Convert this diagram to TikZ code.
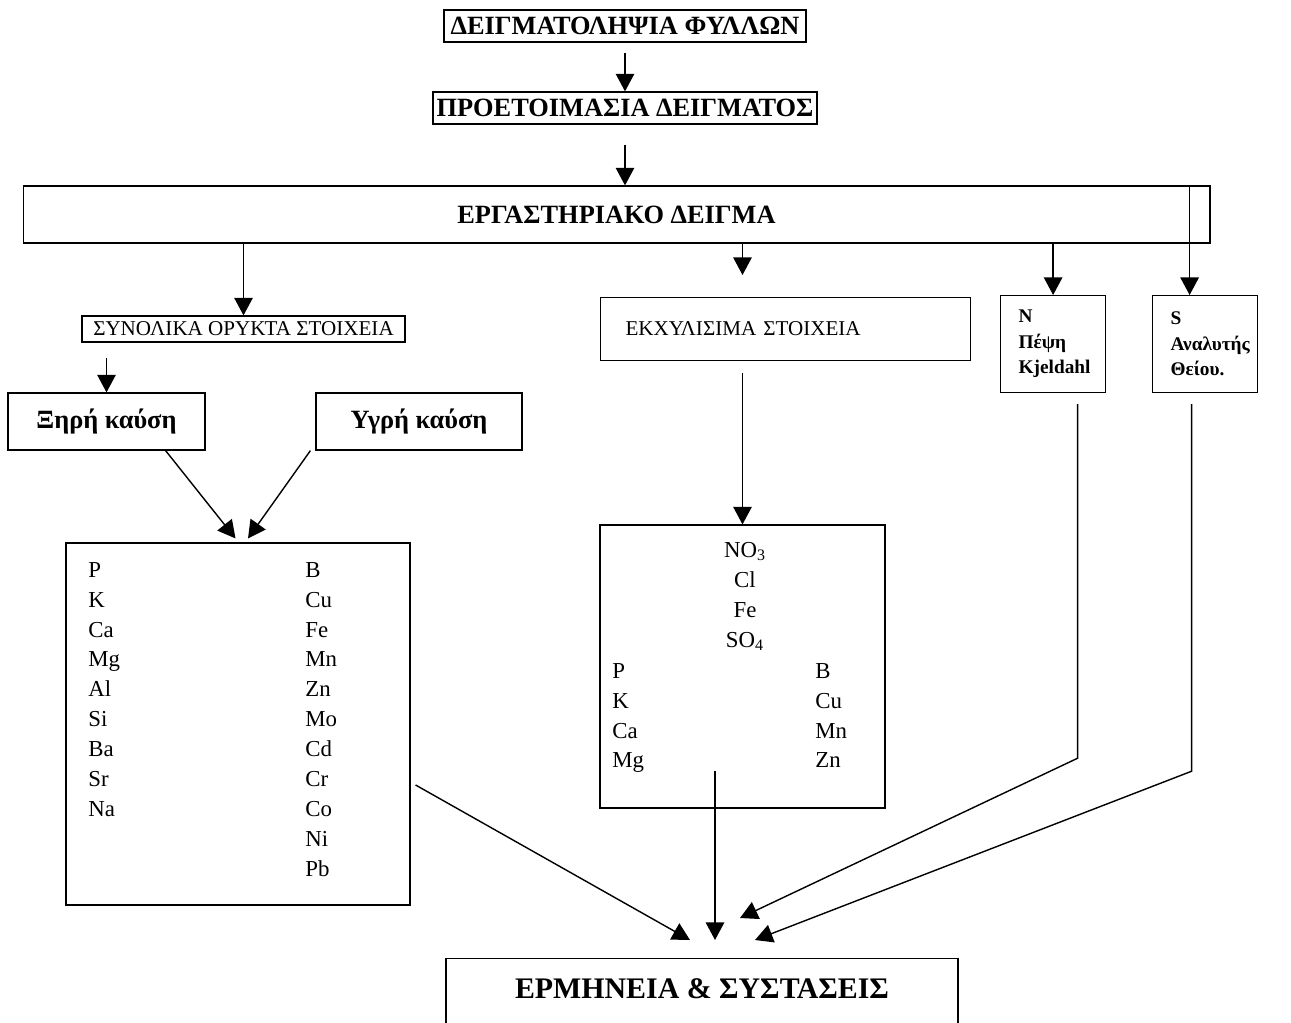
\documentclass[tikz,border=0pt]{standalone}
\usepackage{fontspec}
\setmainfont{Liberation Serif}
\usetikzlibrary{positioning,arrows.meta}

\begin{document}
\begin{tikzpicture}[
  x=0.02cm, y=-0.02cm,
  box/.style={rectangle, draw=black, line width=0.7pt, inner sep=0pt, text centered},
  title/.style={box, font=\bfseries\fontsize{15}{18}\selectfont},
  plain/.style={box, font=\fontsize{12}{14}\selectfont},
  burn/.style={box, font=\bfseries\fontsize{15}{18}\selectfont,
               minimum height=1.14cm},
  side/.style={box, anchor=north west, align=left, text width=1.38cm,
               inner xsep=0.36cm, minimum height=1.94cm,
               font=\bfseries\fontsize{11}{14.5}\selectfont},
  elem/.style={inner sep=0pt, anchor=north west, align=left,
               font=\fontsize{13}{17}\selectfont},
  arr/.style={-{Triangle[length=10pt,width=10.5pt]}, line width=0.8pt}]
  \useasboundingbox (0,0) rectangle (1291,1022);

  % sampling chain
  \node[title, minimum width=7.24cm, minimum height=0.64cm] (samp) at (625,26) {ΔΕΙΓΜΑΤΟΛΗΨΙΑ ΦΥΛΛΩΝ};
  \node[title, minimum width=7.68cm, minimum height=0.64cm] (prep) at (625,108) {ΠΡΟΕΤΟΙΜΑΣΙΑ ΔΕΙΓΜΑΤΟΣ};
  \node[box, font=\bfseries\fontsize{15}{18}\selectfont, minimum width=23.74cm,
        minimum height=1.14cm] (lab) at (616.5,214.5) {ΕΡΓΑΣΤΗΡΙΑΚΟ ΔΕΙΓΜΑ};

  % branches
  \node[plain, minimum width=6.46cm, minimum height=0.52cm] (total) at (243.5,329) {ΣΥΝΟΛΙΚΑ ΟΡΥΚΤΑ ΣΤΟΙΧΕΙΑ};
  \node[plain, anchor=north west, align=left, text width=6.4cm, inner xsep=0.5cm,
        minimum height=1.26cm] (extr) at (600,297) {ΕΚΧΥΛΙΣΙΜΑ ΣΤΟΙΧΕΙΑ};
  \node[side] (nbox) at (1000,295) {N\\Πέψη\\Kjeldahl};
  \node[side] (sbox) at (1152,295) {S\\Αναλυτής\\Θείου.};
  \node[burn, minimum width=3.94cm] (dry) at (106.5,421.5) {Ξηρή καύση};
  \node[burn, minimum width=4.12cm] (wet) at (419,421.5) {Υγρή καύση};

  % element lists
  \node[box, minimum width=6.88cm, minimum height=7.24cm] (totlist) at (238,724) {};
  \node[box, minimum width=5.7cm, minimum height=5.66cm] (extlist) at (742.5,666.5) {};
  \node[elem] (totA) at (88,562) {P\\K\\Ca\\Mg\\Al\\Si\\Ba\\Sr\\Na};
  \node[elem] (totB) at (305,562) {B\\Cu\\Fe\\Mn\\Zn\\Mo\\Cd\\Cr\\Co\\Ni\\Pb};
  \node[elem, anchor=north, align=center] (extA) at (745,542)
       {NO\textsubscript{3}\\Cl\\Fe\\SO\textsubscript{4}};
  \node[elem] (extB) at (612,663) {P\\K\\Ca\\Mg};
  \node[elem] (extC) at (815,663) {B\\Cu\\Mn\\Zn};

  \node[box, font=\bfseries\fontsize{17}{20}\selectfont, anchor=north,
        minimum width=10.24cm, text height=0.8cm, text depth=1cm] (interp) at (702,958)
       {ΕΡΜΗΝΕΙΑ \& ΣΥΣΤΑΣΕΙΣ};

  % drop points
  \coordinate (sdrop) at ([xshift=-0.31cm]sbox.north);
  \coordinate (ndown) at ([xshift=0.49cm,yshift=-0.22cm]nbox.south);
  \coordinate (sdown) at ([xshift=-0.27cm,yshift=-0.22cm]sbox.south);
  \coordinate (xdown) at ([xshift=-0.55cm,yshift=0.76cm]extlist.south);

  \draw[arr, shorten <=0.2cm] (samp.south) -- (prep.north);
  \draw[arr, shorten <=0.4cm] (prep.south) -- (prep.south |- lab.north);
  \draw[arr] (total.north |- lab.south) -- (total.north);
  \draw[arr, shorten >=0.44cm] (lab.south -| extlist.north) -- (extr.north -| extlist.north);
  \draw[arr] (lab.south -| nbox.north) -- (nbox.north);
  \draw[arr] (sdrop |- lab.north) -- (sdrop);
  \draw[arr, shorten <=0.3cm] (dry.north |- total.south) -- (dry.north);
  \draw[arr] ([xshift=-0.8cm]dry.south east) -- ([xshift=-0.05cm,yshift=0.08cm]totlist.north);
  \draw[arr] ([xshift=-0.1cm]wet.south west) -- ([xshift=0.2cm,yshift=0.08cm]totlist.north);
  \draw[arr, shorten <=0.24cm] (extr.south -| extlist.north) -- (extlist.north);
  \draw[arr] (xdown) -- (xdown |- 0,940);
  \draw[arr] ([xshift=0.1cm,yshift=-1.22cm]totlist.east) -- ([xshift=-0.24cm,yshift=0.36cm]interp.north);
  \draw[arr] (ndown) -- ++(0,354) -- ([xshift=0.76cm,yshift=0.8cm]interp.north);
  \draw[arr] (sdown) -- ++(0,367) -- ([xshift=1.06cm,yshift=0.36cm]interp.north);
\end{tikzpicture}
\end{document}
